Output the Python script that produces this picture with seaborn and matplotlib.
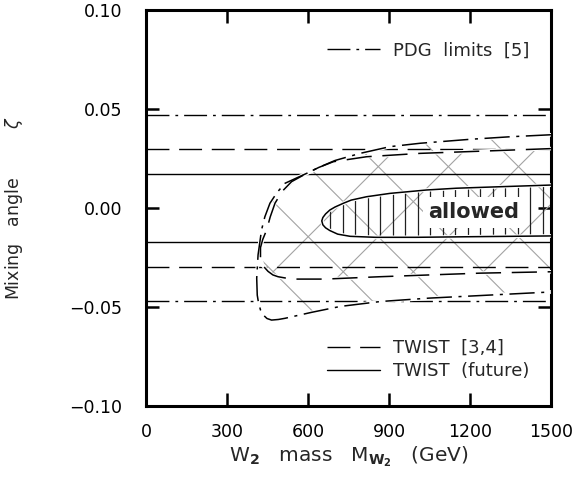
import numpy as np
import matplotlib
matplotlib.use("Agg")
import matplotlib.pyplot as plt
import seaborn as sns
from matplotlib.patches import Polygon
from matplotlib.lines import Line2D

# Horizontal limits on the mixing angle
pdg_limit = 0.047
twist_limit = 0.030
future_limit = 0.017

# PDG contour (dash-dot), traced from top-right round the nose to bottom-right
pdg_x = [1500, 1350, 1200, 1015, 904, 793, 700, 640, 595, 555, 515, 485, 459, 440,
         428, 415, 410, 412, 416, 424, 434, 448, 465, 490, 515, 613, 720, 870, 1050,
         1240, 1500]
pdg_y = [0.0370, 0.0360, 0.0347, 0.0327, 0.0310, 0.0276, 0.0240, 0.0205, 0.0175,
         0.0150, 0.0125, 0.0078, 0.0024, -0.0045, -0.0110, -0.0237, -0.0355, -0.0440,
         -0.0473, -0.0515, -0.0540, -0.0558, -0.0566, -0.0563, -0.0557, -0.0527,
         -0.0497, -0.0472, -0.0455, -0.0442, -0.0424]

# TWIST [3,4] contour (dashed)
twist_x = [1500, 1300, 1015, 817, 694, 640, 595, 539, 505, 478, 460, 447, 432, 424,
           424, 432, 452, 470, 489, 539, 663, 867, 1050, 1237, 1500]
twist_y = [0.0300, 0.0290, 0.0276, 0.0259, 0.0234, 0.0205, 0.0175, 0.0133, 0.0085,
           0.0025, -0.0045, -0.0110, -0.0160, -0.0200, -0.0250, -0.0290, -0.0320,
           -0.0338, -0.0347, -0.0359, -0.0359, -0.0347, -0.0338, -0.0329, -0.0322]

# Allowed region (solid)
allowed_x = [1500, 1300, 1150, 1039, 904, 817, 760, 731, 700, 681, 665, 655, 651,
             655, 665, 681, 710, 756, 850, 1000, 1200, 1500]
allowed_y = [0.0116, 0.0107, 0.0100, 0.0091, 0.0074, 0.0057, 0.0040, 0.0024, 0.0005,
             -0.0010, -0.0030, -0.0048, -0.0065, -0.0085, -0.0100, -0.0114, -0.0132,
             -0.0143, -0.0148, -0.0148, -0.0145, -0.0141]

x_ticks = [0, 300, 600, 900, 1200, 1500]
y_ticks = [-0.10, -0.05, 0.00, 0.05, 0.10]
legend_top = ["PDG  limits  [5]"]
legend_bottom = ["TWIST  [3,4]", "TWIST  (future)"]

DASHDOT = (0, (16.5, 4.3, 2.0, 4.3))
DASHED = (0, (16.5, 7))

sns.set_theme(style="ticks")
plt.rcParams["font.family"] = ["DejaVu Sans"]
plt.rcParams["mathtext.default"] = "regular"

fig, ax = plt.subplots(figsize=(5.81, 4.91), dpi=100)
fig.subplots_adjust(left=0.2513, right=0.9484, bottom=0.1731, top=0.9796)

# diagonal gray hatching, clipped to the contours
slope = (0.2 / 396) / (1500 / 405)
step = 0.0354


def clip_patch(xs, ys):
    patch = Polygon(np.column_stack([xs, ys]), closed=True, facecolor="none",
                    edgecolor="none", transform=ax.transData)
    ax.add_patch(patch)
    return patch


def hatch(patch, sign, c0):
    xx = np.array([0.0, 1500.0])
    for k in range(-10, 11):
        ln, = ax.plot(xx, c0 + k * step + sign * slope * xx, color="#a3a3a3",
                      lw=0.8, zorder=1)
        ln.set_clip_path(patch)


hatch(clip_patch(twist_x, twist_y), +1, -0.0322 - slope * 990)
hatch(clip_patch(pdg_x, pdg_y), -1, -0.0322 + slope * 990)

# vertical hatching of the allowed region
allowed_patch = clip_patch(allowed_x, allowed_y)
vl = ax.vlines(np.arange(681.5, 1500, 46.3), -0.02, 0.02, color="#202020",
               lw=0.9, zorder=2)
vl.set_clip_path(allowed_patch)

# horizontal limits
for v, ls in [(pdg_limit, DASHDOT), (twist_limit, DASHED), (future_limit, "-")]:
    for sgn in (1, -1):
        ax.axhline(sgn * v, color="black", lw=1.0, linestyle=ls, zorder=3)

# contours with a thin white casing
for xs, ys, ls in [(pdg_x, pdg_y, DASHDOT), (twist_x, twist_y, DASHED),
                   (allowed_x, allowed_y, "-")]:
    ax.plot(xs, ys, color="white", lw=2.6, zorder=4)
    sns.lineplot(x=xs, y=ys, sort=False, estimator=None, color="black", lw=1.1,
                 linestyle=ls, ax=ax, zorder=5)

ax.text(1215, -0.0022, "allowed", ha="center", va="center", fontsize=15,
        fontweight="semibold", zorder=6,
        bbox=dict(facecolor="white", edgecolor="none", boxstyle="square,pad=0.25"))

# legends
h_pdg = [Line2D([], [], color="black", lw=1.0, linestyle=DASHDOT)]
h_tw = [Line2D([], [], color="black", lw=1.0, linestyle=DASHED),
        Line2D([], [], color="black", lw=1.0, linestyle="-")]
leg1 = ax.legend(h_pdg, legend_top, loc="center left", bbox_to_anchor=(0.447, 0.897),
                 frameon=False, fontsize=13, handlelength=2.93, handletextpad=0.75,
                 borderpad=0, borderaxespad=0)
ax.add_artist(leg1)
ax.legend(h_tw, legend_bottom, loc="center left", bbox_to_anchor=(0.447, 0.117),
          frameon=False, fontsize=13, handlelength=2.93, handletextpad=0.75,
          borderpad=0, borderaxespad=0, labelspacing=0.3)

ax.set_xlim(0, 1500)
ax.set_ylim(-0.10, 0.10)
ax.set_xticks(x_ticks)
ax.set_yticks(y_ticks)
ax.set_yticklabels(["\u22120.10", "\u22120.05", "0.00", "0.05", "0.10"])
ax.tick_params(direction="in", length=9.5, width=1.8, top=True, right=True,
               labelsize=12.5, colors="black")
ax.tick_params(axis="y", pad=17)
ax.tick_params(axis="x", pad=12)
for sp in ax.spines.values():
    sp.set_linewidth(2.2)
    sp.set_color("black")

ax.set_xlabel(r"W$_{\mathbf{2}}$   mass   M$_{\mathbf{W_2}}$   (GeV)", fontsize=14.5)
ax.xaxis.set_label_coords(0.5, -0.098)
ax.set_ylabel(r"Mixing   angle         $\mathit{\zeta}$", fontsize=12.5)
ax.yaxis.set_label_coords(-0.30, 0.5)

fig.savefig("out.png", dpi=100)
